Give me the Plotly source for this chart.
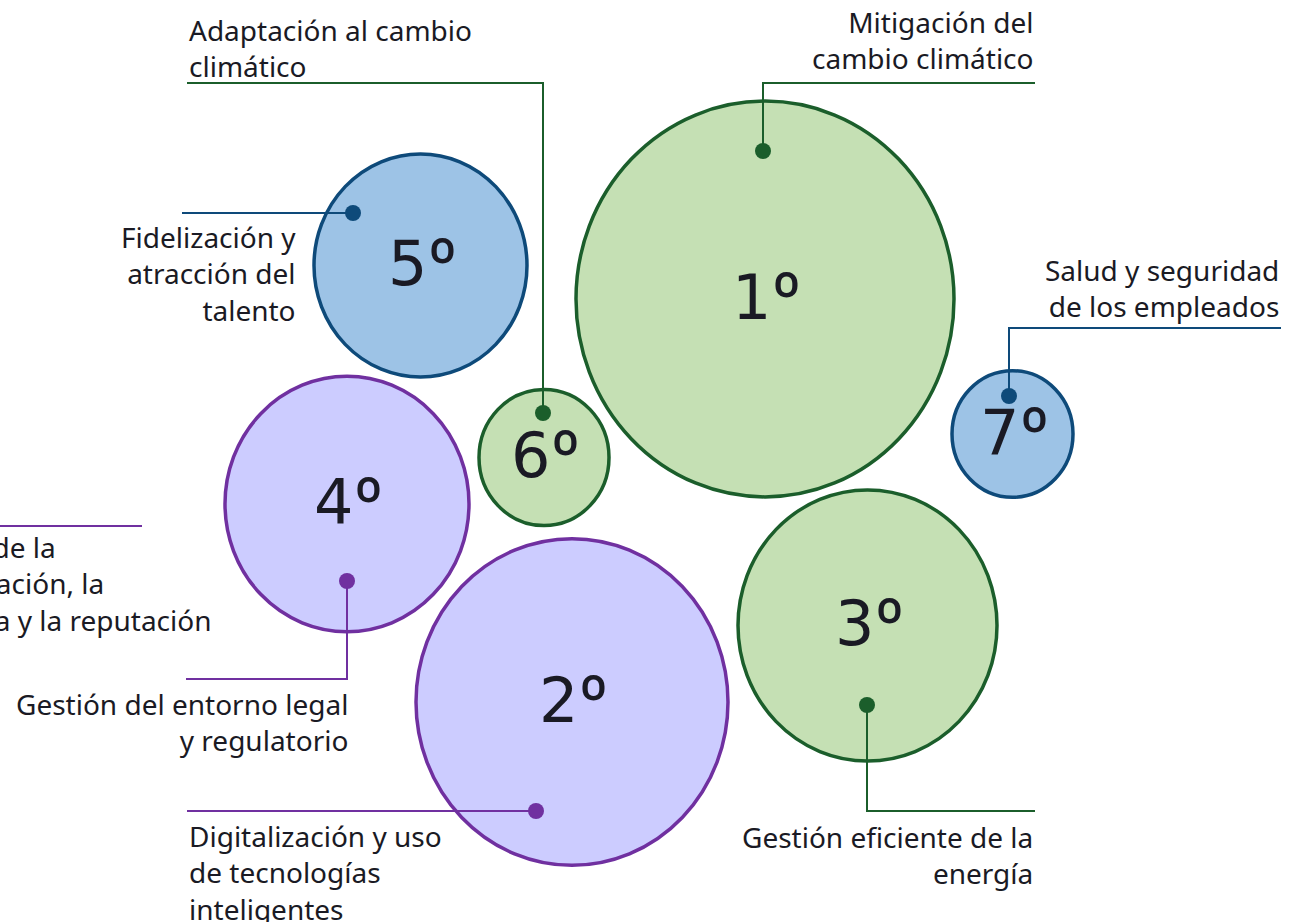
import plotly.graph_objects as go

# topics ranked by relevance (bubble size = weight)
topics = [
    "Mitigación del<br>cambio climático",
    "Digitalización y uso<br>de tecnologías<br>inteligentes",
    "Gestión eficiente de la<br>energía",
    "Gestión del entorno legal<br>y regulatorio",
    "Fidelización y<br>atracción del<br>talento",
    "Adaptación al cambio<br>climático",
    "Salud y seguridad<br>de los empleados",
]
ranks = ["1º", "2º", "3º", "4º", "5º", "6º", "7º"]
groups = ["ambiental", "gobernanza", "ambiental", "gobernanza", "social", "ambiental", "social"]
bubble_x = [765, 572, 867.5, 347, 420.5, 544, 1012.5]
bubble_y = [299, 702, 625.5, 504, 265.5, 457.5, 434]
bubble_r = [189, 156, 129.5, 122, 106.5, 65, 60.5]

# label partly outside the frame (belongs to a neighbouring panel)
extra_topic = "Gestión de la<br>comunicación, la<br>confianza y la reputación"

FILL = {"ambiental": "#C5E0B4", "social": "#9DC3E6", "gobernanza": "#CCCCFF"}
LINE = {"ambiental": "#1B5E2B", "social": "#0E4A7A", "gobernanza": "#7030A0"}
TEXT = "#1A1A24"
STRETCH = 1.047  # the source picture is slightly taller than wide
LABEL_FONT = dict(family="Noto Sans", size=28, color=TEXT)

# leader lines: dot -> elbow -> label, plus where the label sits
leaders = [
    [(763, 151), (763, 83), (1035, 83)],
    [(536, 811), (187, 811)],
    [(867, 705), (867, 811), (1035, 811)],
    [(347, 581), (347, 679), (186, 679)],
    [(353, 213), (182, 213)],
    [(543, 413), (543, 83), (187, 83)],
    [(1009, 396), (1009, 328), (1281, 328)],
]
labels = [
    (1035, 40, "right"),
    (187, 872, "left"),
    (1035, 855, "right"),
    (350, 722, "right"),
    (298, 273, "right"),
    (187, 48, "left"),
    (1281, 288, "right"),
]


def rank_text(rank):
    # the ordinal sign is drawn in a face whose º has no underline bar
    return (rank[:-1] + '<span style="font-family:Roboto;font-size:66px">'
            + rank[-1] + "</span>")


fig = go.Figure()

for i, g in enumerate(groups):
    fig.add_shape(
        type="circle", xref="x", yref="y", layer="below",
        x0=bubble_x[i] - bubble_r[i], x1=bubble_x[i] + bubble_r[i],
        y0=bubble_y[i] - bubble_r[i] * STRETCH, y1=bubble_y[i] + bubble_r[i] * STRETCH,
        fillcolor=FILL[g], line=dict(color=LINE[g], width=3.5),
    )
    fig.add_annotation(
        x=bubble_x[i] + 2, y=bubble_y[i] - 3, text=rank_text(ranks[i]), showarrow=False,
        font=dict(family="DejaVu Sans", size=62, color=TEXT),
    )

for i, g in enumerate(groups):
    pts = leaders[i]
    fig.add_trace(go.Scatter(
        x=[p[0] for p in pts], y=[p[1] for p in pts], mode="lines",
        line=dict(color=LINE[g], width=2), hoverinfo="skip",
    ))
    fig.add_trace(go.Scatter(
        x=[pts[0][0]], y=[pts[0][1]], mode="markers",
        marker=dict(color=LINE[g], size=16), hoverinfo="skip",
    ))
    lx, ly, side = labels[i]
    fig.add_annotation(
        x=lx, y=ly, text=topics[i], showarrow=False,
        xanchor=side, align=side, yanchor="middle", font=LABEL_FONT,
    )

# the cut-off purple label on the left edge
fig.add_trace(go.Scatter(
    x=[0, 142], y=[526, 526], mode="lines",
    line=dict(color=LINE["gobernanza"], width=2), hoverinfo="skip",
))
fig.add_annotation(
    x=214, y=583, text=extra_topic, showarrow=False,
    xanchor="right", align="left", yanchor="middle", font=LABEL_FONT,
)

fig.update_xaxes(range=[0, 1312], visible=False)
fig.update_yaxes(range=[922, 0], visible=False)
fig.update_layout(
    width=1312, height=922,
    margin=dict(l=0, r=0, t=0, b=0),
    showlegend=False,
    plot_bgcolor="white", paper_bgcolor="white",
)

fig.write_html(
    "out.html",
    config={"displayModeBar": False},
    post_script="document.body.style.margin = '0';",
)
